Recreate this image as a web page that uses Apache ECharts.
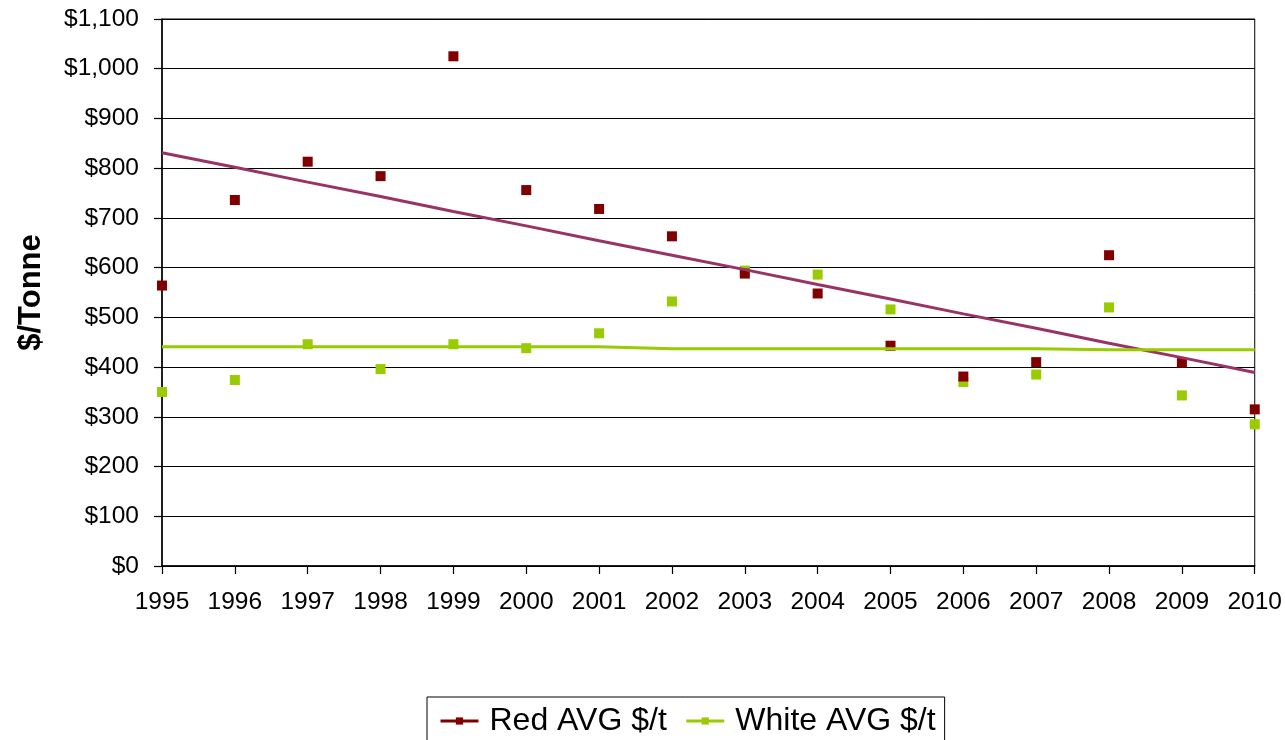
<!DOCTYPE html>
<html>
<head>
<meta charset="utf-8">
<script src="https://cdn.jsdelivr.net/npm/echarts@6/dist/echarts.min.js"></script>
<style>
html,body{margin:0;padding:0;background:#fff;}
#chart{width:1285px;height:740px;}
</style>
</head>
<body>
<div id="chart"></div>
<script>
var years = [1995,1996,1997,1998,1999,2000,2001,2002,2003,2004,2005,2006,2007,2008,2009,2010];
var redAvg = [564,736,813,784,1025,756,718,663,588,548,443,381,410,625,409,315];
var whiteAvg = [350,374,446,396,446,438,468,532,594,586,516,370,385,520,343,285];
var redTrend = [831,802,772,743,713,684,654,625,596,566,537,507,478,448,419,389];
var whiteTrend = [441,441,441,441,441,441,441,437,437,437,437,437,437,435,435,435];
var yTicks = [0,100,200,300,400,500,600,700,800,900,1000,1100];

function pairs(xs, ys){ return xs.map(function(x,i){ return [x, ys[i]]; }); }
function money(v){ return '$' + v.toLocaleString('en-US'); }

var chart = echarts.init(document.getElementById('chart'), null, {renderer:'canvas'});
var font = 'Liberation Sans, Arial, sans-serif';
chart.setOption({
  animation:false,
  backgroundColor:'#fff',
  textStyle:{fontFamily:font},
  grid:{left:162, right:29, top:19, bottom:174, show:true, borderColor:'#000', borderWidth:1, backgroundColor:'transparent'},
  xAxis:{
    type:'value', min:1995, max:2010, interval:1,
    axisLine:{show:true, onZero:false, lineStyle:{color:'#000', width:1.5}},
    axisTick:{show:true, length:8, lineStyle:{color:'#000', width:1.2}},
    splitLine:{show:false},
    axisLabel:{color:'#000', fontSize:24.5, fontFamily:font, margin:24, formatter:function(v){return String(v);}}
  },
  yAxis:{
    type:'value', min:0, max:1100, interval:100,
    name:'$/Tonne', nameLocation:'middle', nameGap:115, nameRotate:90,
    nameTextStyle:{color:'#000', fontSize:31, fontWeight:'bold', fontFamily:font},
    axisLine:{show:true, lineStyle:{color:'#000', width:1.5}},
    axisTick:{show:true, inside:false, length:8, lineStyle:{color:'#000', width:1.2}},
    splitLine:{show:true, lineStyle:{color:'#000', width:1.2}},
    axisLabel:{color:'#000', fontSize:24.5, fontFamily:font, margin:23, formatter:function(v){return yTicks.indexOf(v)>=0 ? money(v) : '';}}
  },
  legend:{
    left:427, top:697,
    data:[
      {name:'Red AVG $/t', itemStyle:{color:'#800000'}, lineStyle:{color:'#800000', width:3, opacity:1}},
      {name:'White AVG $/t', itemStyle:{color:'#99CC00'}, lineStyle:{color:'#99CC00', width:3, opacity:1}}
    ],
    itemWidth:38, itemHeight:9, itemGap:18,
    padding:[8,9,8,12],
    borderColor:'#000', borderWidth:1,
    textStyle:{color:'#000', fontSize:32, fontFamily:font, padding:[0,0,0,6]}
  },
  series:[
    {name:'White AVG $/t', type:'line', data:pairs(years, whiteAvg), symbol:'rect', symbolSize:10,
     itemStyle:{color:'#99CC00'}, lineStyle:{width:0, opacity:0}, z:2},
    {name:'Red AVG $/t', type:'line', data:pairs(years, redAvg), symbol:'rect', symbolSize:10,
     itemStyle:{color:'#800000'}, lineStyle:{width:0, opacity:0}, z:3},
    {name:'redTrend', type:'line', data:pairs(years, redTrend), symbol:'none', silent:true,
     lineStyle:{color:'#993366', width:3}, z:4},
    {name:'whiteTrend', type:'line', data:pairs(years, whiteTrend), symbol:'none', silent:true,
     lineStyle:{color:'#99CC00', width:3}, z:4}
  ]
});
</script>
</body>
</html>
